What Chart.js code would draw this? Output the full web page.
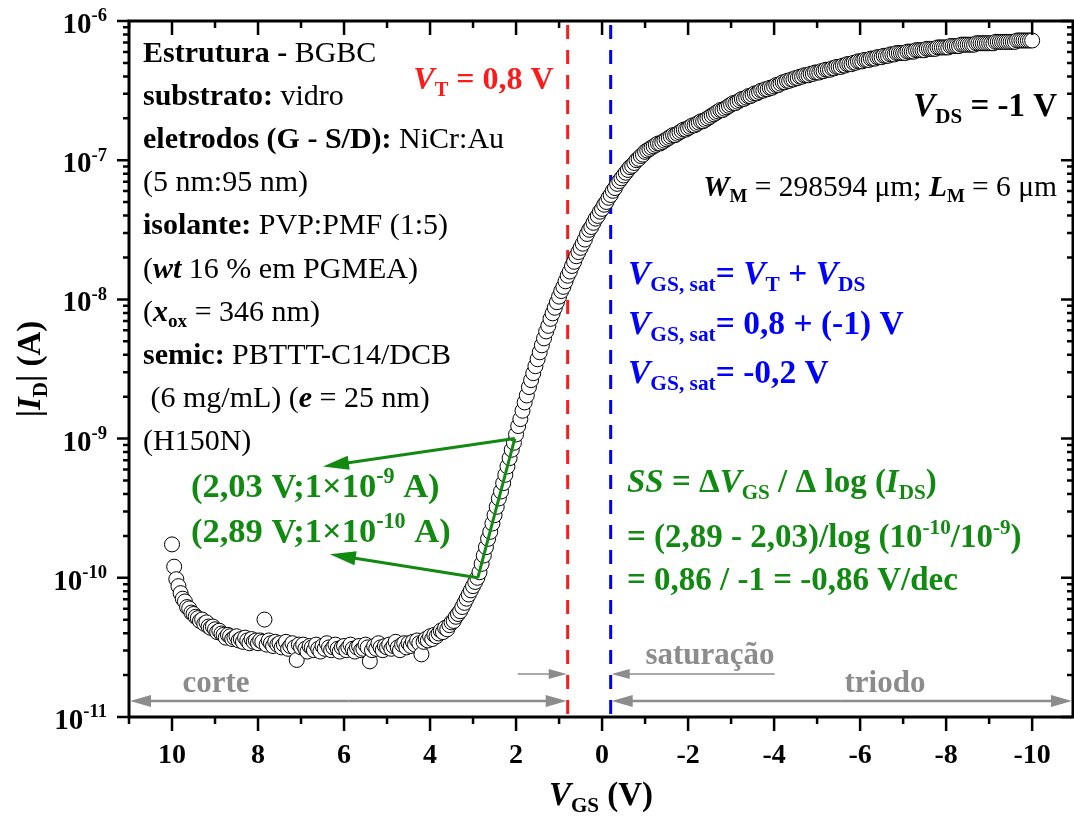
<!DOCTYPE html>
<html>
<head>
<meta charset="utf-8">
<script src="https://cdn.jsdelivr.net/npm/chart.js@4.4.0/dist/chart.umd.min.js"></script>
<style>
  html, body { margin: 0; padding: 0; background: #fff; overflow: hidden; }
  canvas { display: block; }
</style>
</head>
<body>
<canvas id="transferChart" width="1074" height="821" style="width:1074px;height:821px"></canvas>
<script>
// Transfer curve |ID| x VGS, sweep from +10 V to -10 V in 0.05 V steps
const vgsStart = 10;
const vgsStep = -0.05;

// log10(|ID| / A) for each sweep point, 10 points (0.5 V) per row
const logId = [
  -9.76, -9.92, -10.01, -10.06, -10.11, -10.15, -10.17, -10.21, -10.22, -10.25,
  -10.26, -10.28, -10.29, -10.31, -10.30, -10.33, -10.32, -10.35, -10.36, -10.35,
  -10.37, -10.39, -10.38, -10.40, -10.41, -10.43, -10.41, -10.42, -10.44, -10.43,
  -10.42, -10.45, -10.44, -10.46, -10.43, -10.45, -10.47, -10.44, -10.46, -10.45,
  -10.47, -10.45, -10.46, -10.30, -10.48, -10.45, -10.47, -10.49, -10.46, -10.48,
  -10.47, -10.50, -10.48, -10.46, -10.51, -10.49, -10.47, -10.50, -10.59, -10.48,
  -10.50, -10.48, -10.51, -10.53, -10.49, -10.50, -10.52, -10.48, -10.51, -10.53,
  -10.49, -10.51, -10.47, -10.50, -10.52, -10.50, -10.48, -10.51, -10.53, -10.50,
  -10.49, -10.52, -10.50, -10.48, -10.51, -10.53, -10.50, -10.49, -10.52, -10.51,
  -10.48, -10.50, -10.60, -10.52, -10.49, -10.51, -10.47, -10.50, -10.52, -10.49,
  -10.50, -10.48, -10.51, -10.49, -10.46, -10.50, -10.52, -10.48, -10.47, -10.50,
  -10.47, -10.49, -10.46, -10.48, -10.45, -10.47, -10.55, -10.46, -10.44, -10.45,
  -10.42, -10.44, -10.41, -10.42, -10.40, -10.38, -10.39, -10.36, -10.37, -10.34,
  -10.32, -10.31, -10.28, -10.26, -10.24, -10.21, -10.18, -10.15, -10.12, -10.09,
  -10.06, -10.03, -10.00, -9.96, -9.90, -9.84, -9.78, -9.72, -9.67, -9.61,
  -9.55, -9.49, -9.43, -9.38, -9.32, -9.26, -9.20, -9.14, -9.08, -9.03,
  -8.97, -8.91, -8.86, -8.80, -8.74, -8.69, -8.63, -8.58, -8.53, -8.48,
  -8.43, -8.38, -8.33, -8.28, -8.23, -8.19, -8.14, -8.10, -8.06, -8.02,
  -7.98, -7.94, -7.91, -7.87, -7.83, -7.80, -7.76, -7.73, -7.69, -7.66,
  -7.63, -7.60, -7.57, -7.53, -7.50, -7.48, -7.45, -7.42, -7.40, -7.37,
  -7.35, -7.32, -7.30, -7.27, -7.25, -7.22, -7.20, -7.17, -7.15, -7.13,
  -7.11, -7.09, -7.07, -7.05, -7.04, -7.02, -7.00, -6.99, -6.97, -6.96,
  -6.94, -6.93, -6.92, -6.91, -6.90, -6.89, -6.88, -6.88, -6.87, -6.86,
  -6.85, -6.84, -6.83, -6.82, -6.82, -6.81, -6.80, -6.79, -6.78, -6.78,
  -6.77, -6.76, -6.75, -6.75, -6.74, -6.73, -6.72, -6.72, -6.71, -6.70,
  -6.69, -6.68, -6.67, -6.66, -6.65, -6.64, -6.64, -6.63, -6.62, -6.61,
  -6.60, -6.59, -6.59, -6.58, -6.57, -6.56, -6.56, -6.55, -6.54, -6.54,
  -6.53, -6.52, -6.52, -6.51, -6.50, -6.50, -6.49, -6.49, -6.48, -6.48,
  -6.47, -6.46, -6.46, -6.45, -6.44, -6.44, -6.43, -6.43, -6.42, -6.42,
  -6.41, -6.41, -6.40, -6.40, -6.39, -6.39, -6.39, -6.38, -6.38, -6.37,
  -6.37, -6.37, -6.36, -6.36, -6.35, -6.35, -6.35, -6.34, -6.34, -6.33,
  -6.33, -6.33, -6.32, -6.32, -6.31, -6.31, -6.31, -6.30, -6.30, -6.29,
  -6.29, -6.29, -6.28, -6.28, -6.28, -6.27, -6.27, -6.27, -6.26, -6.26,
  -6.26, -6.25, -6.25, -6.25, -6.24, -6.24, -6.24, -6.23, -6.23, -6.23,
  -6.23, -6.23, -6.22, -6.22, -6.22, -6.22, -6.21, -6.21, -6.21, -6.21,
  -6.21, -6.20, -6.20, -6.20, -6.20, -6.20, -6.19, -6.19, -6.19, -6.19,
  -6.19, -6.19, -6.18, -6.18, -6.18, -6.18, -6.18, -6.17, -6.17, -6.17,
  -6.17, -6.17, -6.17, -6.17, -6.16, -6.16, -6.16, -6.16, -6.16, -6.16,
  -6.16, -6.16, -6.16, -6.15, -6.15, -6.15, -6.15, -6.15, -6.15, -6.15,
  -6.15, -6.15, -6.15, -6.14, -6.14, -6.14, -6.14, -6.14, -6.14, -6.14,
  -6.14
];

const xTicks = [10, 8, 6, 4, 2, 0, -2, -4, -6, -8, -10];
const yDecades = [-11, -10, -9, -8, -7, -6];

const vThreshold = 0.8;   // V_T
const vGsSat = -0.2;      // V_GS,sat
const ssPoints = [{ x: 2.03, y: 1e-9 }, { x: 2.89, y: 1e-10 }];

const points = logId.map((v, i) => ({
  x: +(vgsStart + i * vgsStep).toFixed(2),
  y: Math.pow(10, v)
}));

const SERIF = '"Liberation Serif", "Times New Roman", serif';
const GREEN = '#128a12';
const GRAY = '#8c8c8c';

function fontOf(r, size) {
  const sz = (r.s === 'sub' || r.s === 'sup') ? size * 0.64 : size;
  return (r.i ? 'italic ' : '') + (r.b ? 'bold ' : '') + sz.toFixed(1) + 'px ' + SERIF;
}

// draws a line of mixed bold/italic/sub/sup runs
function drawRich(ctx, runs, x, y, size, color, align) {
  let total = 0;
  runs.forEach(r => { ctx.font = fontOf(r, size); total += ctx.measureText(r.t).width; });
  let cx = x;
  if (align === 'center') cx = x - total / 2;
  if (align === 'right') cx = x - total;
  ctx.textAlign = 'left';
  ctx.textBaseline = 'alphabetic';
  runs.forEach(r => {
    ctx.font = fontOf(r, size);
    ctx.fillStyle = r.c || color;
    let dy = 0;
    if (r.s === 'sub') dy = size * 0.22;
    if (r.s === 'sup') dy = -size * 0.4;
    ctx.fillText(r.t, cx, y + dy);
    cx += ctx.measureText(r.t).width;
  });
}

function arrowHead(ctx, x1, y1, x2, y2, len, half) {
  const a = Math.atan2(y2 - y1, x2 - x1);
  ctx.beginPath();
  ctx.moveTo(x2, y2);
  ctx.lineTo(x2 - len * Math.cos(a) + half * Math.sin(a), y2 - len * Math.sin(a) - half * Math.cos(a));
  ctx.lineTo(x2 - len * Math.cos(a) - half * Math.sin(a), y2 - len * Math.sin(a) + half * Math.cos(a));
  ctx.closePath();
  ctx.fill();
}

function arrow(ctx, x1, y1, x2, y2, width, len, half, color) {
  const a = Math.atan2(y2 - y1, x2 - x1);
  ctx.strokeStyle = color;
  ctx.fillStyle = color;
  ctx.lineWidth = width;
  ctx.beginPath();
  ctx.moveTo(x1, y1);
  ctx.lineTo(x2 - (len - 2) * Math.cos(a), y2 - (len - 2) * Math.sin(a));
  ctx.stroke();
  arrowHead(ctx, x1, y1, x2, y2, len, half);
}

const guides = {
  id: 'guides',
  beforeDatasetsDraw(chart) {
    const { ctx, chartArea: a, scales: { x } } = chart;
    ctx.save();
    ctx.lineWidth = 3;
    ctx.setLineDash([14, 11]);
    [[vThreshold, '#ff1a1a'], [vGsSat, '#0000ff']].forEach(([v, c]) => {
      const px = x.getPixelForValue(v);
      ctx.strokeStyle = c;
      ctx.beginPath();
      ctx.moveTo(px, a.top + 4);
      ctx.lineTo(px, a.bottom);
      ctx.stroke();
    });
    ctx.restore();
  },
  afterDraw(chart) {
    const { ctx, chartArea: a, scales: { x, y } } = chart;
    ctx.save();

    // frame and ticks: outward on bottom/left, inward on top/right
    ctx.strokeStyle = '#000';
    ctx.lineWidth = 2.5;
    for (let v = -10; v <= 11; v++) {
      const px = x.getPixelForValue(v);
      const len = v % 2 === 0 ? 14 : 7;
      ctx.beginPath();
      ctx.moveTo(px, a.bottom); ctx.lineTo(px, a.bottom + len);
      ctx.moveTo(px, a.top); ctx.lineTo(px, a.top + len);
      ctx.stroke();
    }
    yDecades.forEach(e => {
      for (let m = 1; m <= 9; m++) {
        if (e === -6 && m > 1) break;
        const py = y.getPixelForValue(m * Math.pow(10, e));
        const len = m === 1 ? 12 : 6;
        ctx.beginPath();
        ctx.moveTo(a.left, py); ctx.lineTo(a.left - len, py);
        ctx.moveTo(a.right, py); ctx.lineTo(a.right - len, py);
        ctx.stroke();
      }
    });
    ctx.lineWidth = 3;
    ctx.strokeRect(a.left, a.top, a.right - a.left, a.bottom - a.top);

    // tick labels
    xTicks.forEach(v => {
      drawRich(ctx, [{ t: String(v), b: true }], x.getPixelForValue(v), a.bottom + 46, 28, '#000', 'center');
    });
    yDecades.forEach(e => {
      const py = y.getPixelForValue(Math.pow(10, e));
      drawRich(ctx, [{ t: '10', b: true }, { t: String(e), b: true, s: 'sup' }], a.left - 22, py + 12, 29, '#000', 'right');
    });

    // axis titles
    drawRich(ctx, [{ t: 'V', b: true, i: true }, { t: 'GS', b: true, s: 'sub' }, { t: ' (V)', b: true }],
      (a.left + a.right) / 2, 805, 33, '#000', 'center');
    ctx.save();
    ctx.translate(40, (a.top + a.bottom) / 2);
    ctx.rotate(-Math.PI / 2);
    drawRich(ctx, [{ t: '|', b: true }, { t: 'I', b: true, i: true }, { t: 'D', b: true, s: 'sub' }, { t: '| (A)', b: true }],
      0, 0, 33, '#000', 'center');
    ctx.restore();

    // device description
    const info = [
      [{ t: 'Estrutura - ', b: true }, { t: 'BGBC' }],
      [{ t: 'substrato: ', b: true }, { t: 'vidro' }],
      [{ t: 'eletrodos (G - S/D): ', b: true }, { t: 'NiCr:Au' }],
      [{ t: '(5 nm:95 nm)' }],
      [{ t: 'isolante: ', b: true }, { t: 'PVP:PMF (1:5)' }],
      [{ t: '(' }, { t: 'wt', b: true, i: true }, { t: ' 16 % em PGMEA)' }],
      [{ t: '(' }, { t: 'x', b: true, i: true }, { t: 'ox', b: true, s: 'sub' }, { t: ' = 346 nm)' }],
      [{ t: 'semic: ', b: true }, { t: 'PBTTT-C14/DCB' }],
      [{ t: ' (6 mg/mL) (' }, { t: 'e', b: true, i: true }, { t: ' = 25 nm)' }],
      [{ t: '(H150N)' }]
    ];
    info.forEach((runs, i) => drawRich(ctx, runs, 143, 62 + i * 43.1, 30, '#000', 'left'));

    drawRich(ctx, [{ t: 'V', b: true, i: true }, { t: 'T', b: true, s: 'sub' }, { t: ' = 0,8 V', b: true }],
      x.getPixelForValue(vThreshold) - 14, 89, 32, '#ff1a1a', 'right');
    drawRich(ctx, [{ t: 'V', b: true, i: true }, { t: 'DS', b: true, s: 'sub' }, { t: ' = -1 V', b: true }],
      1057, 116, 33, '#000', 'right');
    drawRich(ctx, [{ t: 'W', b: true, i: true }, { t: 'M', b: true, s: 'sub' }, { t: ' = 298594 μm; ' },
      { t: 'L', b: true, i: true }, { t: 'M', b: true, s: 'sub' }, { t: ' = 6 μm' }],
      1057, 196, 29.5, '#000', 'right');

    // saturation voltage
    const vgs = [{ t: 'V', b: true, i: true }, { t: 'GS, sat', b: true, s: 'sub' }];
    drawRich(ctx, vgs.concat([{ t: '= ', b: true }, { t: 'V', b: true, i: true }, { t: 'T', b: true, s: 'sub' },
      { t: ' + ', b: true }, { t: 'V', b: true, i: true }, { t: 'DS', b: true, s: 'sub' }]), 628, 284, 33.5, '#0000ff', 'left');
    drawRich(ctx, vgs.concat([{ t: '= 0,8 + (-1) V', b: true }]), 628, 334, 33.5, '#0000ff', 'left');
    drawRich(ctx, vgs.concat([{ t: '= -0,2 V', b: true }]), 628, 383, 33.5, '#0000ff', 'left');

    // subthreshold swing
    drawRich(ctx, [{ t: 'SS', b: true, i: true }, { t: ' = Δ', b: true }, { t: 'V', b: true, i: true }, { t: 'GS', b: true, s: 'sub' },
      { t: ' / Δ log (', b: true }, { t: 'I', b: true, i: true }, { t: 'DS', b: true, s: 'sub' }, { t: ')', b: true }],
      627, 492, 33, GREEN, 'left');
    drawRich(ctx, [{ t: '= (2,89 - 2,03)/log (10', b: true }, { t: '-10', b: true, s: 'sup' }, { t: '/10', b: true },
      { t: '-9', b: true, s: 'sup' }, { t: ')', b: true }], 627, 547, 33, GREEN, 'left');
    drawRich(ctx, [{ t: '= 0,86 / -1 = -0,86 V/dec', b: true }], 627, 590, 33, GREEN, 'left');

    drawRich(ctx, [{ t: '(2,03 V;1×10', b: true }, { t: '-9', b: true, s: 'sup' }, { t: ' A)', b: true }], 191, 497, 34.5, GREEN, 'left');
    drawRich(ctx, [{ t: '(2,89 V;1×10', b: true }, { t: '-10', b: true, s: 'sup' }, { t: ' A)', b: true }], 191, 542, 34.5, GREEN, 'left');

    // the two points used for SS, joined and pointed at their labels
    const p1 = { x: x.getPixelForValue(ssPoints[0].x), y: y.getPixelForValue(ssPoints[0].y) };
    const p2 = { x: x.getPixelForValue(ssPoints[1].x), y: y.getPixelForValue(ssPoints[1].y) };
    ctx.strokeStyle = GREEN;
    ctx.lineWidth = 3;
    ctx.beginPath();
    ctx.moveTo(p1.x, p1.y); ctx.lineTo(p2.x, p2.y);
    ctx.stroke();
    arrow(ctx, p1.x, p1.y, x.getPixelForValue(6.49), y.getPixelForValue(Math.pow(10, -9.2)), 3, 26, 7, GREEN);
    arrow(ctx, p2.x, p2.y, x.getPixelForValue(6.33), y.getPixelForValue(Math.pow(10, -9.83)), 3, 26, 7, GREEN);

    // operating regions
    const xt = x.getPixelForValue(vThreshold);
    const xs = x.getPixelForValue(vGsSat);
    const ya = a.bottom - 16;
    arrow(ctx, (a.left + xt) / 2, ya, a.left + 1, ya, 2.5, 21, 6, GRAY);
    arrow(ctx, (a.left + xt) / 2, ya, xt - 1, ya, 2.5, 21, 6, GRAY);
    arrow(ctx, (xs + a.right) / 2, ya, xs + 1, ya, 2.5, 21, 6, GRAY);
    arrow(ctx, (xs + a.right) / 2, ya, a.right - 1, ya, 2.5, 21, 6, GRAY);
    arrow(ctx, xt - 50, ya - 27, xt - 1, ya - 27, 1.5, 18, 5, GRAY);
    arrow(ctx, xs + 164, ya - 27, xs + 1, ya - 27, 1.5, 18, 5, GRAY);
    drawRich(ctx, [{ t: 'corte', b: true }], 216, 692, 31, GRAY, 'center');
    drawRich(ctx, [{ t: 'triodo', b: true }], 885, 692, 31, GRAY, 'center');
    drawRich(ctx, [{ t: 'saturação', b: true }], 710, 664, 31, GRAY, 'center');

    ctx.restore();
  }
};

new Chart(document.getElementById('transferChart'), {
  type: 'scatter',
  data: {
    datasets: [{
      data: points,
      pointRadius: 7.5,
      pointHoverRadius: 7.5,
      pointBackgroundColor: '#ffffff',
      pointBorderColor: '#000000',
      pointBorderWidth: 1,
      showLine: false
    }]
  },
  options: {
    responsive: false,
    animation: false,
    layout: { autoPadding: false, padding: { left: 129, right: 1, top: 21, bottom: 104 } },
    plugins: { legend: { display: false }, tooltip: { enabled: false } },
    scales: {
      x: { type: 'linear', min: -10.95, max: 11, reverse: true, display: false },
      y: { type: 'logarithmic', min: 1e-11, max: 1e-6, display: false }
    }
  },
  plugins: [guides]
});
</script>
</body>
</html>
